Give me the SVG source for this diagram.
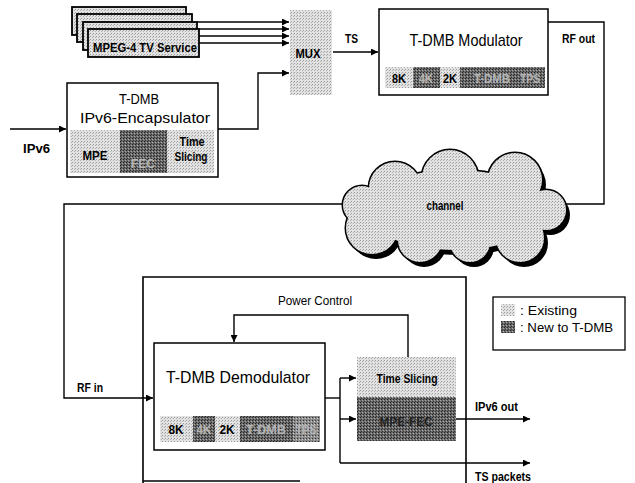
<svg xmlns="http://www.w3.org/2000/svg" width="635" height="483" viewBox="0 0 635 483">
<defs>
<pattern id="lt" width="3" height="3" patternUnits="userSpaceOnUse">
<rect width="3" height="3" fill="#e2e2e2"/><rect width="1" height="1" fill="#9a9a9a"/><rect x="2" y="1" width="1" height="1" fill="#b0b0b0"/>
</pattern>
<pattern id="dk" width="3" height="3" patternUnits="userSpaceOnUse">
<rect width="3" height="3" fill="#6a6a6a"/><rect width="1" height="1" fill="#222"/><rect x="2" y="1" width="1" height="1" fill="#aaa"/><rect x="1" y="2" width="1" height="1" fill="#333"/>
</pattern>
<pattern id="md" width="3" height="3" patternUnits="userSpaceOnUse">
<rect width="3" height="3" fill="#8a8a8a"/><rect width="1" height="1" fill="#333"/><rect x="2" y="1" width="1" height="1" fill="#ccc"/>
</pattern>
<marker id="ah" viewBox="0 0 10 10" refX="10" refY="5" markerWidth="7" markerHeight="7" markerUnits="userSpaceOnUse" orient="auto">
<path d="M0,0 L10,5 L0,10 z" fill="#000"/>
</marker>
</defs>
<style>
.box{fill:#fff;stroke:#000;stroke-width:1.5}
.ln{fill:none;stroke:#000;stroke-width:1.4}
.ar{fill:none;stroke:#000;stroke-width:1.4;marker-end:url(#ah)}
.t{font-family:"Liberation Sans Narrow","Liberation Sans",Arial,sans-serif;fill:#000}
.ttl{font-size:17px;text-anchor:middle}
.lb{font-size:13px;font-weight:bold}
.cb{font-size:13px;font-weight:bold;text-anchor:middle}
.cw{font-size:13px;font-weight:bold;text-anchor:middle;fill:#b5b5b5}
</style>

<g id="connectors">
<line class="ar" x1="197" y1="22" x2="289" y2="22"/>
<line class="ar" x1="199" y1="29" x2="289" y2="29"/>
<line class="ar" x1="199" y1="36" x2="289" y2="36"/>
<line class="ar" x1="199" y1="43" x2="289" y2="43"/>
<line class="ar" x1="10" y1="129" x2="66" y2="129"/>
<polyline class="ar" points="218,129 258,129 258,73 289,73"/>
<line class="ar" x1="333" y1="52" x2="378" y2="52"/>
<polyline class="ln" points="548,22 604,22 604,204 562,204"/>
<polyline class="ar" points="344,204 64,204 64,398 153,398"/>
<polyline class="ar" points="408,357 408,315 234,315 234,342"/>
<polyline class="ln" points="325,398 340,398"/>
<polyline class="ln" points="340,378 340,463"/>
<line class="ar" x1="340" y1="378" x2="356" y2="378"/>
<line class="ar" x1="340" y1="419" x2="356" y2="419"/>
<line class="ar" x1="340" y1="463" x2="530" y2="463"/>
<line class="ar" x1="455" y1="419" x2="530" y2="419"/>
</g>

<g id="mpeg4">
<rect x="72" y="7" width="114" height="28" fill="url(#lt)" stroke="#000" stroke-width="1.8"/>
<rect x="77" y="14" width="115" height="28" fill="url(#lt)" stroke="#000" stroke-width="1.8"/>
<rect x="83" y="22" width="114" height="28" fill="url(#lt)" stroke="#000" stroke-width="1.8"/>
<rect x="88" y="29" width="111" height="28" fill="url(#lt)" stroke="#000" stroke-width="1.8"/>
<text class="t cb" x="145" y="52" textLength="104" lengthAdjust="spacingAndGlyphs">MPEG-4 TV Service</text>
</g>

<g id="mux">
<rect x="290" y="10" width="42" height="85" fill="url(#lt)"/>
<text class="t cb" x="308" y="58" textLength="25" lengthAdjust="spacingAndGlyphs">MUX</text>
</g>

<g id="encapsulator">
<rect class="box" x="67" y="83" width="151" height="94"/>
<text class="t ttl" x="139" y="104" style="font-size:15px" textLength="40" lengthAdjust="spacingAndGlyphs">T-DMB</text>
<text class="t ttl" x="145" y="123" style="font-size:15px" textLength="130" lengthAdjust="spacingAndGlyphs">IPv6-Encapsulator</text>
<rect x="70" y="130" width="50" height="43" fill="url(#lt)"/>
<rect x="120" y="130" width="47" height="43" fill="url(#dk)"/>
<rect x="167" y="130" width="47" height="43" fill="url(#lt)"/>
<text class="t cb" x="95" y="160" textLength="25" lengthAdjust="spacingAndGlyphs">MPE</text>
<text class="t cw" x="143" y="168" textLength="24" lengthAdjust="spacingAndGlyphs">FEC</text>
<text class="t cb" x="192" y="146" textLength="25" lengthAdjust="spacingAndGlyphs">Time</text>
<text class="t cb" x="191" y="161" textLength="33" lengthAdjust="spacingAndGlyphs">Slicing</text>
</g>

<g id="modulator">
<rect class="box" x="379" y="9" width="169" height="86"/>
<text class="t ttl" x="466" y="46" textLength="113" lengthAdjust="spacingAndGlyphs">T-DMB Modulator</text>
<rect x="385" y="67" width="28" height="21" fill="url(#lt)"/>
<rect x="413" y="67" width="27" height="21" fill="url(#dk)"/>
<rect x="440" y="67" width="20" height="21" fill="url(#lt)"/>
<rect x="460" y="67" width="85" height="21" fill="url(#dk)"/>
<text class="t cb" x="399" y="83" textLength="14" lengthAdjust="spacingAndGlyphs">8K</text>
<text class="t cw" x="426" y="83" textLength="14" lengthAdjust="spacingAndGlyphs">4K</text>
<text class="t cb" x="450" y="83" textLength="14" lengthAdjust="spacingAndGlyphs">2K</text>
<text class="t cw" x="492" y="83" textLength="36" lengthAdjust="spacingAndGlyphs">T-DMB</text>
<text class="t cw" x="530" y="83" textLength="20" lengthAdjust="spacingAndGlyphs">TPS</text>
</g>

<g id="channel">
<g transform="translate(4,5)" fill="#000">
<circle cx="395" cy="188" r="26"/><circle cx="450" cy="178" r="28"/><circle cx="515" cy="180" r="27"/>
<circle cx="546" cy="210" r="20"/><circle cx="520" cy="238" r="24"/><circle cx="470" cy="242" r="20"/>
<circle cx="420" cy="240" r="22"/><circle cx="372" cy="228" r="26"/><circle cx="362" cy="205" r="19"/>
<ellipse cx="455" cy="210" rx="90" ry="40"/>
</g>
<g fill="#000" stroke="#000" stroke-width="3">
<circle cx="395" cy="188" r="26"/><circle cx="450" cy="178" r="28"/><circle cx="515" cy="180" r="27"/>
<circle cx="546" cy="210" r="20"/><circle cx="520" cy="238" r="24"/><circle cx="470" cy="242" r="20"/>
<circle cx="420" cy="240" r="22"/><circle cx="372" cy="228" r="26"/><circle cx="362" cy="205" r="19"/>
<ellipse cx="455" cy="210" rx="90" ry="40"/>
</g>
<g fill="url(#lt)">
<circle cx="395" cy="188" r="26"/><circle cx="450" cy="178" r="28"/><circle cx="515" cy="180" r="27"/>
<circle cx="546" cy="210" r="20"/><circle cx="520" cy="238" r="24"/><circle cx="470" cy="242" r="20"/>
<circle cx="420" cy="240" r="22"/><circle cx="372" cy="228" r="26"/><circle cx="362" cy="205" r="19"/>
<ellipse cx="455" cy="210" rx="90" ry="40"/>
</g>
<text class="t cb" x="445" y="210" textLength="37" lengthAdjust="spacingAndGlyphs">channel</text>
</g>

<g id="receiver">
<polyline class="ln" points="143,483 143,277 466,277 466,483" style="stroke-width:1.6"/>
<line class="ln" x1="143" y1="481" x2="300" y2="481"/>
</g>

<g id="demodulator">
<rect class="box" x="154" y="343" width="171" height="107"/>
<text class="t ttl" x="238" y="383" textLength="144" lengthAdjust="spacingAndGlyphs">T-DMB Demodulator</text>
<rect x="160" y="416" width="33" height="26" fill="url(#lt)"/>
<rect x="193" y="416" width="22" height="26" fill="url(#dk)"/>
<rect x="215" y="416" width="25" height="26" fill="url(#lt)"/>
<rect x="240" y="416" width="53" height="26" fill="url(#dk)"/>
<rect x="293" y="416" width="27" height="26" fill="url(#md)"/>
<text class="t cb" x="176" y="434" textLength="15" lengthAdjust="spacingAndGlyphs">8K</text>
<text class="t cw" x="204" y="434" textLength="15" lengthAdjust="spacingAndGlyphs">4K</text>
<text class="t cb" x="227" y="434" textLength="15" lengthAdjust="spacingAndGlyphs">2K</text>
<text class="t cw" x="266" y="434" textLength="40" lengthAdjust="spacingAndGlyphs">T-DMB</text>
<text class="t cw" x="306" y="434" textLength="21" lengthAdjust="spacingAndGlyphs">TPS</text>
</g>

<g id="timeslicing">
<rect x="357" y="357" width="99" height="40" fill="url(#lt)"/>
<text class="t cb" x="407" y="383" textLength="61" lengthAdjust="spacingAndGlyphs">Time Slicing</text>
</g>

<g id="mpefec">
<rect x="357" y="397" width="99" height="44" fill="url(#dk)"/>
<text class="t cb" x="406" y="426" style="fill:#222" textLength="53" lengthAdjust="spacingAndGlyphs">MPE-FEC</text>
</g>

<g id="legend">
<rect class="box" x="493" y="297" width="132" height="53" style="stroke-width:1.3"/>
<rect x="501" y="304" width="14" height="12" fill="url(#lt)"/>
<rect x="501" y="321" width="14" height="12" fill="url(#dk)"/>
<text class="t" x="520" y="315" style="font-size:12px" textLength="57" lengthAdjust="spacingAndGlyphs">: Existing</text>
<text class="t" x="520" y="332" style="font-size:12px" textLength="93" lengthAdjust="spacingAndGlyphs">: New to T-DMB</text>
</g>

<g id="labels">
<text class="t lb" x="23" y="153" textLength="27" lengthAdjust="spacingAndGlyphs">IPv6</text>
<text class="t lb" x="345" y="43" textLength="13" lengthAdjust="spacingAndGlyphs">TS</text>
<text class="t lb" x="562" y="43" textLength="33" lengthAdjust="spacingAndGlyphs">RF out</text>
<text class="t lb" x="77" y="392" textLength="26" lengthAdjust="spacingAndGlyphs">RF in</text>
<text class="t" x="278" y="305" style="font-size:13px" textLength="74" lengthAdjust="spacingAndGlyphs">Power Control</text>
<text class="t lb" x="475" y="411" textLength="43" lengthAdjust="spacingAndGlyphs">IPv6 out</text>
<text class="t lb" x="475" y="481" textLength="56" lengthAdjust="spacingAndGlyphs">TS packets</text>
</g>
</svg>
